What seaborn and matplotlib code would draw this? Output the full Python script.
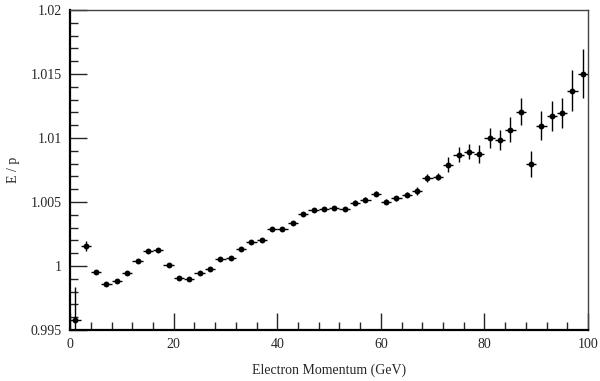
import numpy as np
import pandas as pd
import matplotlib
matplotlib.use("Agg")
import matplotlib.pyplot as plt
import seaborn as sns
from matplotlib.ticker import MultipleLocator

# Data
momentum = list(range(1, 100, 2))
ep_ratio = [0.99575, 1.00158, 0.99955, 0.99862, 0.99883, 0.99945, 1.00037, 1.00115,
            1.00123, 1.00008, 0.99909, 0.99896, 0.99948, 0.99979, 1.00052, 1.00063,
            1.00135, 1.00188, 1.00203, 1.00289, 1.00289, 1.00338, 1.00406, 1.00435,
            1.00445, 1.00456, 1.00445, 1.00495, 1.00518, 1.00565, 1.00503, 1.00529,
            1.00555, 1.00584, 1.00688, 1.00698, 1.00791, 1.00870, 1.00893, 1.00878,
            1.01003, 1.00982, 1.01065, 1.01206, 1.00797, 1.01096, 1.01172, 1.01193,
            1.01370, 1.01503]
ep_error = [0.0026, 0.0004, 0.0001, 0.0001, 0.0001, 0.0001, 0.0001, 0.0001,
            0.0001, 0.0001, 0.0001, 0.0001, 0.0001, 0.0001, 0.0001, 0.0001,
            0.0001, 0.0001, 0.00015, 0.00015, 0.00015, 0.00015, 0.00015, 0.00015,
            0.00015, 0.00015, 0.00015, 0.0002, 0.0002, 0.0002, 0.0002, 0.0002,
            0.0002, 0.0003, 0.0003, 0.0003, 0.00059, 0.0006, 0.0006, 0.0007,
            0.00078, 0.0008, 0.00096, 0.00104, 0.00104, 0.00115, 0.00117, 0.00117,
            0.0016, 0.0019]
bin_half_width = [1.0] * len(momentum)

df = pd.DataFrame({"p": momentum, "ep": ep_ratio, "err": ep_error, "xerr": bin_half_width})

sns.set_style("ticks")
plt.rcParams["font.family"] = ["Liberation Serif", "DejaVu Serif"]

fig = plt.figure(figsize=(6, 3.81), dpi=100)
ax = fig.add_axes([0.117, 0.134, 0.863, 0.840])

ax.errorbar(df["p"], df["ep"], yerr=df["err"], xerr=df["xerr"], fmt="none",
            ecolor="black", elinewidth=1.0, capsize=0, zorder=2)
sns.scatterplot(data=df, x="p", y="ep", ax=ax, color="black", s=18,
                edgecolor="black", linewidth=0, zorder=3, legend=False)

ax.set_xlim(0, 100)
ax.set_ylim(0.995, 1.02)
ax.xaxis.set_minor_locator(MultipleLocator(4))
ax.yaxis.set_minor_locator(MultipleLocator(0.001))
ax.set_xticks([0, 20, 40, 60, 80, 100])
ax.set_xticklabels(["0", "20", "40", "60", "80", "100"])
ax.set_yticks([0.995, 1.0, 1.005, 1.01, 1.015, 1.02])
ax.set_yticklabels(["0.995", "1", "1.005", "1.01", "1.015", "1.02"])

ax.tick_params(axis="both", which="major", direction="in", length=12, width=1,
               labelsize=10, pad=6, top=False, right=False)
ax.tick_params(axis="both", which="minor", direction="in", length=6, width=1,
               top=False, right=False)

for side in ["left", "bottom"]:
    ax.spines[side].set_linewidth(1.6)
    ax.spines[side].set_color("black")
for side in ["top", "right"]:
    ax.spines[side].set_visible(True)
    ax.spines[side].set_linewidth(1.0)
    ax.spines[side].set_color("#444444")

ax.set_xlabel("Electron Momentum (GeV)", fontsize=10, labelpad=9)
ax.set_ylabel("E / p", fontsize=10, labelpad=8)

fig.savefig("out.png", dpi=100)
